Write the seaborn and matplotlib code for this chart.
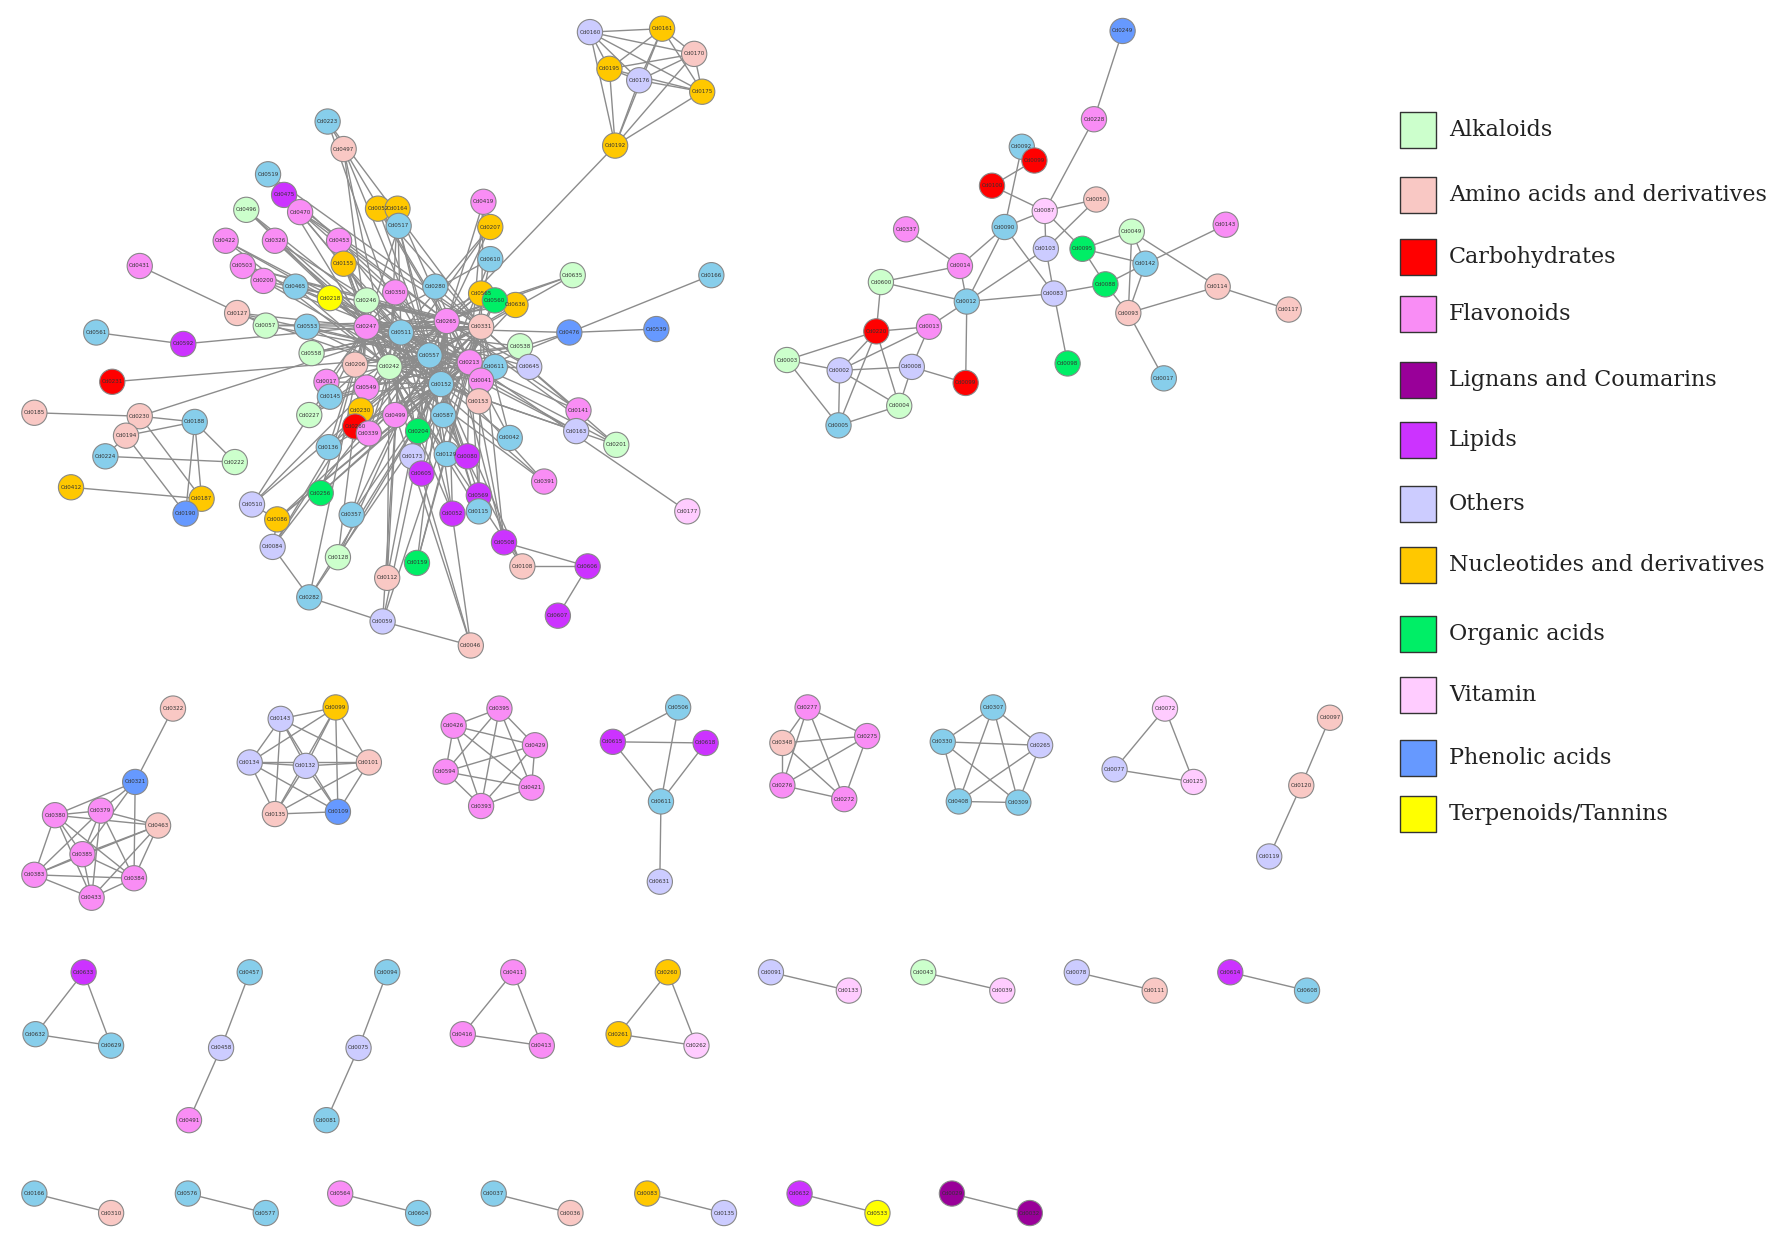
import numpy as np, pandas as pd, matplotlib
matplotlib.use("Agg")
import matplotlib.pyplot as plt
import seaborn as sns
from matplotlib.collections import LineCollection

categories = ["Alkaloids","Amino acids and derivatives","Carbohydrates","Flavonoids","Lignans and Coumarins",
              "Lipids","Others","Nucleotides and derivatives","Organic acids","Vitamin","Phenolic acids","Terpenoids/Tannins"]
codes = ["A","M","C","F","K","L","O","N","G","V","P","Y"]
colors = ["#ccffcc","#f9c8c4","#ff0000","#f98df5","#990099","#cc33ff","#ccccff","#ffc800","#00ee66","#ffccff","#6699ff","#ffff00"]
sky = "#87ceeb"
legend_y = [113,170,224,274,331,384,440,493,553,606,661,710]

# nodes: label, x, y, category (layout coordinates)
node_label = []; node_x = []; node_y = []; node_cat = []
def add(rows):
    for l, x, y, c in rows:
        node_label.append(l); node_x.append(x); node_y.append(y); node_cat.append(c)

top_group = [("Cd0160",515,28,"O"),("Cd0161",578,25,"N"),("Cd0170",606,47,"M"),("Cd0195",532,60,"N"),
             ("Cd0176",558,70,"O"),("Cd0175",613,80,"N"),("Cd0192",537,127,"N")]
main_hubs = [("Cd0265",390,280,"F"),("Cd0557",375,310,"S"),("Cd0213",410,316,"F"),("Cd0511",350,290,"S"),
             ("Cd0247",320,285,"F"),("Cd0331",420,285,"M"),("Cd0242",340,320,"A"),("Cd0152",385,335,"S")]
main_others = [("Cd0223",286,106,"S"),("Cd0497",300,130,"M"),("Cd0519",234,152,"S"),("Cd0475",248,170,"L"),
    ("Cd0496",215,183,"A"),("Cd0470",262,185,"F"),("Cd0422",197,210,"F"),("Cd0326",240,210,"F"),("Cd0503",212,232,"F"),
    ("Cd0431",122,232,"F"),("Cd0453",296,210,"F"),("Cd0052",330,182,"N"),("Cd0164",347,182,"N"),("Cd0517",348,197,"S"),
    ("Cd0419",422,176,"F"),("Cd0207",428,198,"N"),("Cd0610",428,226,"S"),("Cd0635",500,240,"A"),("Cd0166",621,240,"S"),
    ("Cd0155",300,230,"N"),("Cd0200",230,245,"F"),("Cd0465",258,250,"S"),("Cd0127",207,273,"M"),("Cd0057",232,284,"A"),
    ("Cd0553",268,285,"S"),("Cd0218",288,260,"Y"),("Cd0246",320,262,"A"),("Cd0350",345,255,"F"),("Cd0280",380,250,"S"),
    ("Cd0565",420,256,"N"),("Cd0636",450,266,"N"),("Cd0560",432,262,"G"),("Cd0538",454,302,"A"),("Cd0476",497,290,"P"),
    ("Cd0539",573,287,"P"),("Cd0558",272,308,"A"),("Cd0206",310,318,"M"),("Cd0611",432,320,"S"),("Cd0645",462,320,"O"),
    ("Cd0017",285,333,"F"),("Cd0549",320,338,"F"),("Cd0041",420,332,"F"),("Cd0145",288,346,"S"),("Cd0227",270,362,"A"),
    ("Cd0230",315,358,"N"),("Cd0499",345,362,"F"),("Cd0587",387,362,"S"),("Cd0153",418,350,"M"),("Cd0141",505,358,"F"),
    ("Cd0163",503,376,"O"),("Cd0260",310,372,"C"),("Cd0339",322,378,"F"),("Cd0204",365,376,"G"),("Cd0042",445,382,"S"),
    ("Cd0201",538,388,"A"),("Cd0136",287,390,"S"),("Cd0173",360,398,"O"),("Cd0129",390,396,"S"),("Cd0080",408,398,"L"),
    ("Cd0605",368,413,"L"),("Cd0391",475,420,"F"),("Cd0569",418,432,"L"),("Cd0052b",395,448,"L"),("Cd0115",418,446,"S"),
    ("Cd0508",440,473,"L"),("Cd0606",513,494,"L"),("Cd0607",487,537,"L"),("Cd0108",456,494,"M"),("Cd0256",280,430,"G"),
    ("Cd0357",307,449,"S"),("Cd0510",220,440,"O"),("Cd0086",242,453,"N"),("Cd0084",238,477,"O"),("Cd0128",295,486,"A"),
    ("Cd0159",364,491,"G"),("Cd0112",338,504,"M"),("Cd0282",270,521,"S"),("Cd0059",334,542,"O"),("Cd0046",411,563,"M"),
    ("Cd0177",600,446,"V"),("Cd0561",84,290,"S"),("Cd0592",160,300,"L"),("Cd0231",98,333,"C"),("Cd0185",30,360,"M"),
    ("Cd0230b",122,363,"M"),("Cd0194",110,380,"M"),("Cd0188",170,368,"S"),("Cd0224",92,398,"S"),("Cd0222",205,403,"A"),
    ("Cd0412",62,425,"N"),("Cd0187",176,435,"N"),("Cd0190",162,448,"P")]
right_group = [("Cd0249",980,27,"P"),("Cd0228",955,104,"F"),("Cd0092",892,128,"S"),("Cd0099",903,140,"C"),
    ("Cd0100",866,162,"C"),("Cd0050",957,174,"M"),("Cd0087",912,184,"V"),("Cd0337",791,200,"F"),("Cd0090",877,198,"S"),
    ("Cd0049",988,202,"A"),("Cd0143",1070,196,"F"),("Cd0103",913,217,"O"),("Cd0095",945,217,"G"),("Cd0014",838,232,"F"),
    ("Cd0142",1000,230,"S"),("Cd0600",769,246,"A"),("Cd0088",965,248,"G"),("Cd0083",920,256,"O"),("Cd0012",844,263,"S"),
    ("Cd0093",985,273,"M"),("Cd0114",1063,250,"M"),("Cd0117",1125,270,"M"),("Cd0220",765,289,"C"),("Cd0013",811,285,"F"),
    ("Cd0003",687,314,"A"),("Cd0002",733,323,"O"),("Cd0008",796,320,"O"),("Cd0099b",843,334,"C"),("Cd0098",932,317,"G"),
    ("Cd0017r",1016,330,"S"),("Cd0004",785,354,"A"),("Cd0005",732,371,"S")]
comp1 = [("Cd0322",151,618,"M"),("Cd0321",118,682,"P"),("Cd0380",48,711,"F"),("Cd0379",88,707,"F"),("Cd0463",138,720,"M"),
         ("Cd0385",72,745,"F"),("Cd0383",30,763,"F"),("Cd0384",117,766,"F"),("Cd0433",80,783,"F")]
comp2 = [("Cd0143s",245,627,"O"),("Cd0099s",293,617,"N"),("Cd0134",218,665,"O"),("Cd0132",267,668,"O"),
         ("Cd0101",322,665,"M"),("Cd0135",240,710,"M"),("Cd0109",295,708,"P")]
comp3 = [("Cd0395",436,618,"F"),("Cd0426",396,633,"F"),("Cd0429",467,650,"F"),("Cd0594",389,673,"F"),("Cd0421",464,687,"F"),("Cd0393",420,703,"F")]
comp4 = [("Cd0506",592,617,"S"),("Cd0615",535,647,"L"),("Cd0618",616,648,"L"),("Cd0611s",577,699,"S"),("Cd0631",576,769,"O")]
comp5 = [("Cd0277",705,617,"F"),("Cd0348",683,648,"M"),("Cd0275",757,642,"F"),("Cd0276",683,685,"F"),("Cd0272",737,697,"F")]
comp6 = [("Cd0307",867,617,"S"),("Cd0330",823,647,"S"),("Cd0265s",908,650,"O"),("Cd0408",837,699,"S"),("Cd0309",889,700,"S")]
comp7 = [("Cd0072",1017,618,"V"),("Cd0077",973,671,"O"),("Cd0125",1042,682,"V")]
comp8 = [("Cd0097",1161,626,"M"),("Cd0120",1136,685,"M"),("Cd0119",1108,747,"O")]
row3 = [("Cd0633",73,848,"L"),("Cd0632",31,902,"S"),("Cd0629",97,912,"S"),
        ("Cd0457",218,848,"S"),("Cd0458",193,914,"O"),("Cd0491",165,977,"F"),
        ("Cd0094",338,848,"S"),("Cd0075",313,914,"O"),("Cd0081",285,977,"S"),
        ("Cd0411",448,848,"F"),("Cd0416",404,902,"F"),("Cd0413",473,912,"F"),
        ("Cd0260s",583,848,"N"),("Cd0261",540,902,"N"),("Cd0262",608,912,"V"),
        ("Cd0091",673,848,"O"),("Cd0133",741,864,"V"),("Cd0043",806,848,"A"),("Cd0039",875,864,"V"),
        ("Cd0078",940,848,"O"),("Cd0111",1008,864,"M"),("Cd0614",1074,848,"L"),("Cd0608",1141,864,"S")]
row4 = [("Cd0166s",30,1041,"S"),("Cd0310",97,1058,"M"),("Cd0576",164,1041,"S"),("Cd0577",232,1058,"S"),
        ("Cd0564",297,1041,"F"),("Cd0604",365,1058,"S"),("Cd0037",431,1041,"S"),("Cd0036",498,1058,"M"),
        ("Cd0083s",565,1041,"N"),("Cd0135s",632,1058,"O"),("Cd0632s",698,1041,"L"),("Cd0533",766,1058,"Y"),
        ("Cd0029",831,1041,"K"),("Cd0032",899,1058,"K")]
for g in [top_group, main_hubs, main_others, right_group, comp1, comp2, comp3, comp4, comp5, comp6, comp7, comp8, row3, row4]:
    add(g)

cliques = [[r[0] for r in top_group], [r[0] for r in main_hubs], [r[0] for r in comp1[2:]], [r[0] for r in comp2],
           [r[0] for r in comp3], [r[0] for r in comp5], [r[0] for r in comp6], [r[0] for r in comp7]]
edge_list = [("Cd0192","Cd0265"),("Cd0322","Cd0321"),("Cd0321","Cd0380"),("Cd0321","Cd0379"),("Cd0321","Cd0385"),("Cd0321","Cd0384"),
    ("Cd0506","Cd0615"),("Cd0615","Cd0618"),("Cd0615","Cd0611s"),("Cd0506","Cd0611s"),("Cd0618","Cd0611s"),("Cd0611s","Cd0631"),
    ("Cd0097","Cd0120"),("Cd0120","Cd0119"),
    ("Cd0633","Cd0632"),("Cd0633","Cd0629"),("Cd0632","Cd0629"),("Cd0457","Cd0458"),("Cd0458","Cd0491"),
    ("Cd0094","Cd0075"),("Cd0075","Cd0081"),("Cd0411","Cd0416"),("Cd0411","Cd0413"),("Cd0416","Cd0413"),
    ("Cd0260s","Cd0261"),("Cd0260s","Cd0262"),("Cd0261","Cd0262"),("Cd0091","Cd0133"),("Cd0043","Cd0039"),
    ("Cd0078","Cd0111"),("Cd0614","Cd0608"),("Cd0166s","Cd0310"),("Cd0576","Cd0577"),("Cd0564","Cd0604"),
    ("Cd0037","Cd0036"),("Cd0083s","Cd0135s"),("Cd0632s","Cd0533"),("Cd0029","Cd0032"),
    # left / outer links of main cluster
    ("Cd0561","Cd0592"),("Cd0592","Cd0247"),("Cd0231","Cd0557"),("Cd0185","Cd0230b"),("Cd0230b","Cd0511"),("Cd0230b","Cd0188"),
    ("Cd0194","Cd0188"),("Cd0194","Cd0224"),("Cd0188","Cd0187"),("Cd0188","Cd0190"),("Cd0224","Cd0222"),("Cd0230b","Cd0187"),
    ("Cd0194","Cd0190"),("Cd0412","Cd0187"),("Cd0188","Cd0222"),("Cd0431","Cd0057"),("Cd0606","Cd0607"),("Cd0508","Cd0606"),
    ("Cd0476","Cd0539"),("Cd0166","Cd0476"),("Cd0177","Cd0213"),("Cd0201","Cd0331"),("Cd0046","Cd0059"),("Cd0059","Cd0282"),
    ("Cd0282","Cd0084"),("Cd0510","Cd0086"),("Cd0086","Cd0084"),("Cd0108","Cd0606"),
    # right cluster
    ("Cd0249","Cd0228"),("Cd0228","Cd0087"),("Cd0092","Cd0099"),("Cd0099","Cd0100"),("Cd0100","Cd0087"),("Cd0092","Cd0090"),
    ("Cd0050","Cd0087"),("Cd0050","Cd0103"),("Cd0087","Cd0103"),("Cd0087","Cd0095"),("Cd0087","Cd0090"),("Cd0049","Cd0095"),
    ("Cd0049","Cd0142"),("Cd0143","Cd0142"),("Cd0049","Cd0114"),("Cd0114","Cd0117"),("Cd0093","Cd0114"),("Cd0093","Cd0088"),
    ("Cd0142","Cd0093"),("Cd0095","Cd0088"),("Cd0103","Cd0083"),("Cd0083","Cd0098"),("Cd0083","Cd0012"),("Cd0090","Cd0012"),
    ("Cd0090","Cd0014"),("Cd0014","Cd0600"),("Cd0014","Cd0012"),("Cd0337","Cd0014"),("Cd0600","Cd0012"),("Cd0012","Cd0013"),
    ("Cd0012","Cd0099b"),("Cd0013","Cd0220"),("Cd0013","Cd0008"),("Cd0220","Cd0003"),("Cd0220","Cd0002"),("Cd0220","Cd0004"),
    ("Cd0220","Cd0005"),("Cd0003","Cd0002"),("Cd0003","Cd0005"),("Cd0002","Cd0004"),("Cd0002","Cd0005"),("Cd0008","Cd0004"),
    ("Cd0008","Cd0099b"),("Cd0004","Cd0005"),("Cd0002","Cd0008"),("Cd0093","Cd0017r"),("Cd0142","Cd0095"),("Cd0083","Cd0088"),
    ("Cd0088","Cd0142"),("Cd0600","Cd0220"),("Cd0090","Cd0083"),("Cd0103","Cd0012"),("Cd0093","Cd0049"),("Cd0013","Cd0002")]
# every peripheral node of the main cluster is wired to several hubs
hub_names = [r[0] for r in main_hubs]
outer_left = {"Cd0561","Cd0592","Cd0231","Cd0185","Cd0230b","Cd0194","Cd0188","Cd0224","Cd0222","Cd0412","Cd0187","Cd0190",
              "Cd0166","Cd0539","Cd0606","Cd0607","Cd0177","Cd0431"}
main_nodes = [r[0] for r in main_others if r[0] not in outer_left]

pos = {l: (x, y) for l, x, y in zip(node_label, node_x, node_y)}
segs = []
for cl in cliques:
    for i in range(len(cl)):
        for j in range(i + 1, len(cl)):
            segs.append([pos[cl[i]], pos[cl[j]]])
for a, b in edge_list:
    segs.append([pos[a], pos[b]])
for k, n in enumerate(main_nodes):
    for h in (hub_names[k % 8], hub_names[(k + 3) % 8], hub_names[(k + 5) % 8]):
        segs.append([pos[n], pos[h]])

fig = plt.figure(figsize=(17.87, 12.44), dpi=100)
ax = fig.add_axes([0, 0, 1, 1])
ax.set_xlim(0, 1560); ax.set_ylim(1085, 0); ax.axis("off")
ax.add_collection(LineCollection(segs, colors="#8c8c8c", linewidths=1.0, zorder=1))

pal = dict(zip(codes, colors)); pal["S"] = sky
df = pd.DataFrame({"x": node_x, "y": node_y, "cat": node_cat, "label": node_label})
sns.scatterplot(data=df, x="x", y="y", hue="cat", palette=pal, s=330, edgecolor="#888888", linewidth=0.8,
                legend=False, ax=ax, zorder=2)
for l, x, y in zip(node_label, node_x, node_y):
    ax.text(x, y, l.rstrip("bsr") if l[-1] in "bsr" else l, fontsize=4, ha="center", va="center", color="#333333", zorder=3)

for c, col, y in zip(categories, colors, legend_y):
    ax.scatter([1238], [y], s=700, marker="s", color=col, edgecolor="#333333", linewidth=1.0, zorder=2)
    ax.text(1265, y, c, fontsize=16, family="DejaVu Serif", va="center", ha="left", color="#222222")

fig.savefig("out.png", dpi=100)
